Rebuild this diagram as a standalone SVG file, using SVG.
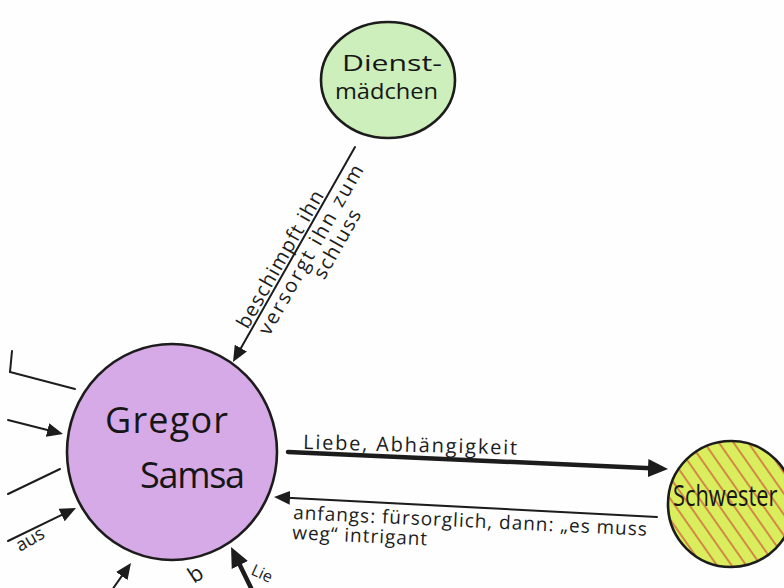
<svg xmlns="http://www.w3.org/2000/svg" width="784" height="588" viewBox="0 0 784 588">
<style>
.bg{fill:#fefefe}
.node{stroke:#1c1c1c;stroke-width:2.6}
.name{font-family:"Open Sans","Liberation Sans",sans-serif;fill:#161616}
.lbl{font-family:"Open Sans","Liberation Sans",sans-serif;fill:#1c1c1c}
.ln{stroke:#1c1c1c;fill:none;stroke-width:2;stroke-linecap:round}
.thick{stroke-width:4.5}
</style>
<defs>
<marker id="ah" markerUnits="userSpaceOnUse" markerWidth="16" markerHeight="14" refX="3" refY="7" orient="auto"><path d="M0,0 L16,7 L0,14 z" fill="#1c1c1c"/></marker>
<marker id="ahBig" markerUnits="userSpaceOnUse" markerWidth="20" markerHeight="18" refX="3" refY="9" orient="auto"><path d="M0,0 L20,9 L0,18 z" fill="#1c1c1c"/></marker>
<pattern id="stripes" patternUnits="userSpaceOnUse" width="12" height="12" patternTransform="rotate(55)"><rect width="12" height="12" fill="#daed5c"/><rect width="12" height="2" fill="#d08a45"/></pattern>
</defs>
<rect class="bg" width="784" height="588"/>

<g id="connectors">
  <line class="ln" x1="355" y1="147" x2="239.4" y2="350.7" marker-end="url(#ah)"/>
  <line class="ln thick" x1="288" y1="452" x2="651" y2="468.2" marker-end="url(#ahBig)"/>
  <line class="ln" x1="657" y1="517" x2="287" y2="497.7" marker-end="url(#ah)"/>
  <path class="ln" d="M12,351 L10,372 L75,389"/>
  <line class="ln" x1="8" y1="420" x2="50.4" y2="430.8" marker-end="url(#ah)"/>
  <line class="ln" x1="8" y1="494" x2="60" y2="469"/>
  <line class="ln" x1="8" y1="541" x2="64.3" y2="513.7" marker-end="url(#ah)"/>
  <line class="ln" x1="112" y1="590" x2="123.5" y2="573.6" marker-end="url(#ah)"/>
  <line class="ln thick" x1="253" y1="592" x2="238.5" y2="562.3" marker-end="url(#ahBig)"/>
</g>

<g id="labels">
  <g transform="translate(233,362) rotate(-60.4)">
    <text class="lbl" x="35" y="-3" font-size="20" textLength="155">beschimpft ihn</text>
    <text class="lbl" x="40" y="19" font-size="20" textLength="192">versorgt ihn zum</text>
    <text class="lbl" x="116" y="39" font-size="20" textLength="76">schluss</text>
  </g>
  <text class="lbl" x="303" y="449" font-size="20" textLength="214" transform="rotate(1.5 303 449)">Liebe, Abhängigkeit</text>
  <g transform="rotate(2.7 293 518)">
    <text class="lbl" x="293" y="519" font-size="19" textLength="354">anfangs: fürsorglich, dann: „es muss</text>
    <text class="lbl" x="293" y="539" font-size="19" textLength="135">weg“ intrigant</text>
  </g>
  <text class="lbl" x="20" y="552" font-size="18" textLength="30" transform="rotate(-30 20 552)">aus</text>
  <text class="lbl" x="194" y="584" font-size="22" transform="rotate(-33 194 584)">b</text>
  <text class="lbl" x="250" y="574" font-size="16" transform="rotate(25 250 574)">Lie</text>
</g>

<g id="node-dienstmaedchen">
  <ellipse class="node" cx="388" cy="80" rx="67" ry="58" fill="#cdefbb"/>
  <text class="name" x="342" y="71" font-size="21" textLength="100" lengthAdjust="spacingAndGlyphs">Dienst-</text>
  <text class="name" x="335" y="99" font-size="21" textLength="103" lengthAdjust="spacingAndGlyphs">mädchen</text>
</g>

<g id="node-gregor">
  <ellipse class="node" cx="172" cy="452" rx="105" ry="108" fill="#d6aae6"/>
  <text class="name" x="105" y="433" font-size="36" textLength="123">Gregor</text>
  <text class="name" x="140" y="488" font-size="36" textLength="105">Samsa</text>
</g>

<g id="node-schwester">
  <circle class="node" cx="731" cy="504" r="63" fill="url(#stripes)"/>
  <text class="name" x="0" y="0" font-size="23" transform="translate(673,506) scale(0.95,1.25)">Schwester</text>
</g>
</svg>
